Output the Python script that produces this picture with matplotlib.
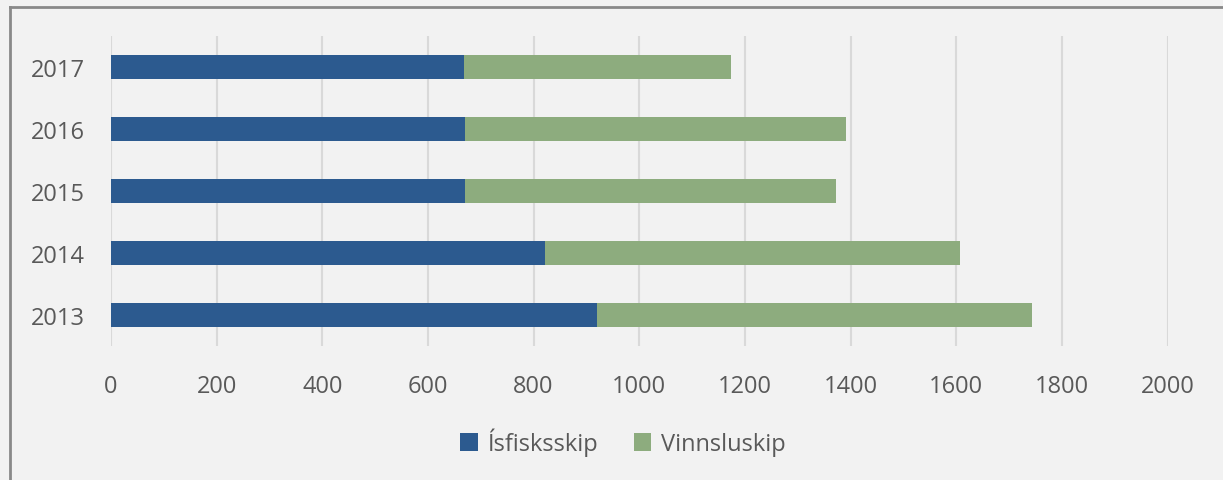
import matplotlib.pyplot as plt
import numpy as np
from matplotlib.lines import Line2D

# Gögn
years = ['2013', '2014', '2015', '2016', '2017']
isfisk = [920, 821, 671, 670, 668]
vinnsla = [824, 786, 702, 721, 506]
labels = ['Ísfisksskip', 'Vinnsluskip']
colors = ['#2C5A8F', '#8DAC7E']
txt = '#595959'

plt.rcParams['font.family'] = ['Open Sans', 'DejaVu Sans']

fig = plt.figure(figsize=(12.23, 4.81), dpi=100, facecolor='#F2F2F2')
ax = fig.add_axes([111 / 1223, 1 - 347 / 481, (1167.5 - 111) / 1223, 310 / 481])
ax.set_facecolor('#F2F2F2')

y = np.arange(len(years))
ax.barh(y, isfisk, height=0.39, color=colors[0], label=labels[0], zorder=3)
ax.barh(y, vinnsla, left=isfisk, height=0.39, color=colors[1], label=labels[1], zorder=3)

ax.set_xlim(0, 2000)
ax.set_ylim(-0.5, len(years) - 0.5)
ax.set_xticks(range(0, 2001, 200))
ax.set_yticks(y)
ax.set_yticklabels(years)
ax.tick_params(axis='both', length=0, labelsize=17, labelcolor=txt)
ax.tick_params(axis='x', pad=20)
ax.tick_params(axis='y', pad=19)
ax.grid(axis='x', color='#D9D9D9', linewidth=1.5, zorder=0)
for s in ax.spines.values():
    s.set_visible(False)

ax.legend(loc='center', bbox_to_anchor=(0.5 + (623 - (111 + 1167.5) / 2) / 1056.5, -0.31),
          ncol=2, frameon=False, fontsize=17, labelcolor=txt,
          handlelength=0.75, handleheight=0.75, handletextpad=0.4, columnspacing=1.5)

# ytri rammi (vinstri og efri)
fig.add_artist(Line2D([9.5 / 1223, 9.5 / 1223], [0, 1 - 7.5 / 481], transform=fig.transFigure,
                      color='#898989', linewidth=2))
fig.add_artist(Line2D([9.5 / 1223, 1], [1 - 7.5 / 481, 1 - 7.5 / 481], transform=fig.transFigure,
                      color='#898989', linewidth=2))

fig.savefig('out.png', dpi=100, facecolor=fig.get_facecolor())
